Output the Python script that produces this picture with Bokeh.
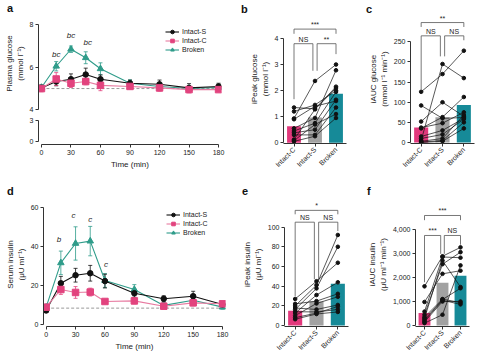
import math
from bokeh.plotting import figure
from bokeh.layouts import row, column
from bokeh.models import (Range1d, FixedTicker, Whisker, TeeHead, ColumnDataSource,
                          Legend, LegendItem, NumeralTickFormatter, Div)
from bokeh.core.properties import value
from bokeh.embed import file_html
from bokeh.resources import INLINE

FONT = "Liberation Sans"

# ---------------- data ----------------
times = [0, 15, 30, 45, 60, 90, 120, 150, 180]
time_ticks = [0, 30, 60, 90, 120, 150, 180]

glu_intact_s = [5.03, 5.33, 5.44, 5.66, 5.44, 5.25, 5.20, 5.03, 5.10]
glu_intact_s_err = [0.15, 0.20, 0.25, 0.30, 0.20, 0.15, 0.20, 0.20, 0.15]
glu_intact_c = [5.00, 5.45, 5.25, 5.33, 5.15, 5.10, 5.03, 4.95, 4.95]
glu_intact_c_err = [0.15, 0.30, 0.20, 0.15, 0.25, 0.10, 0.15, 0.15, 0.10]
glu_broken = [5.05, 6.05, 6.85, 6.45, 5.93, 5.25, 5.10, 5.00, 5.05]
glu_broken_err = [0.10, 0.22, 0.15, 0.28, 0.28, 0.15, 0.10, 0.10, 0.10]
glu_baseline = 5.0
glu_sig_t = [15, 30, 47]
glu_sig_y = [6.62, 7.50, 7.15]
glu_sig_txt = ["bc", "bc", "bc"]

ins_intact_s = [7.3, 21.2, 25.3, 26.3, 22.3, 16.1, 13.3, 14.6, 10.4]
ins_intact_s_err = [1.0, 3.5, 3.5, 4.0, 3.5, 2.0, 1.5, 2.5, 1.0]
ins_intact_c = [9.0, 18.0, 16.5, 16.7, 11.9, 12.2, 9.5, 11.2, 10.7]
ins_intact_c_err = [1.0, 2.5, 3.0, 2.0, 1.0, 1.5, 1.5, 1.5, 1.0]
ins_broken = [9.0, 31.6, 41.5, 42.7, 22.6, 18.0, 9.9, 12.5, 9.0]
ins_broken_err = [1.0, 6.0, 8.5, 7.5, 3.5, 2.5, 1.5, 1.5, 1.0]
ins_baseline = 8.5
ins_sig_t = [13, 28, 45, 61]
ins_sig_y = [43.3, 56.0, 53.5, 31.0]
ins_sig_txt = ["b", "c", "c", "c"]

groups = ["Intact-C", "Intact-S", "Broken"]
letters_top = ["a", "b", "c"]
letters_bottom = ["d", "e", "f"]

# b: iPeak glucose
b_means = [0.63, 0.97, 1.88]
b_ic = [1.35, 1.20, 0.93, 0.90, 0.55, 0.45, 0.38, 0.30, 0.12, 0.08, 0.05]
b_is = [1.30, 1.45, 2.37, 1.40, 0.95, 0.75, 0.50, 0.30, 1.28, 0.70, 0.25]
b_br = [2.15, 2.00, 3.00, 1.60, 2.78, 1.95, 1.65, 1.35, 2.10, 1.10, 0.95]
b_brk_from = [0, 0, 1]
b_brk_to = [2, 1, 2]
b_brk_level = [4.36, 3.80, 3.80]
b_brk_left_end = [4.18, 1.67, 2.76]
b_brk_right_end = [4.18, 2.76, 3.40]
b_brk_text = ["***", "NS", "**"]

# c: iAUC glucose
c_means = [37, 63, 93]
c_ic = [126, 92, 52, 37, 35, 15, 10, 5, 3, 1, 0]
c_is = [170, 60, 100, 48, 63, 30, 20, 195, 10, 5, 3]
c_br = [228, 62, 65, 75, 113, 60, 58, 160, 68, 50, 35]
c_brk_from = [0, 0, 1]
c_brk_to = [2, 1, 2]
c_brk_level = [298, 265, 265]
c_brk_left_end = [287, 132, 214]
c_brk_right_end = [287, 214, 254]
c_brk_text = ["**", "NS", "NS"]

# e: iPeak insulin
e_means = [15.0, 24.5, 42.5]
e_ic = [27.0, 22.0, 20.0, 17.8, 16.3, 14.0, 12.6, 10.0, 8.0, 6.4]
e_is = [45.0, 24.8, 41.0, 16.3, 37.7, 13.8, 31.0, 22.4, 12.6, 11.7]
e_br = [63.8, 32.2, 92.0, 20.9, 80.0, 16.3, 43.9, 29.2, 19.3, 13.8]
e_brk_from = [0, 0, 1]
e_brk_to = [2, 1, 2]
e_brk_level = [117, 105, 105]
e_brk_left_end = [113, 30, 47]
e_brk_right_end = [113, 47, 96]
e_brk_text = ["*", "NS", "NS"]

# f: iAUC insulin
f_means = [520, 1780, 2070]
f_ic = [1630, 980, 580, 450, 350, 300, 250, 200, 150, 100]
f_is = [2880, 2150, 2850, 2550, 1100, 2700, 1080, 1050, 1000, 450]
f_br = [3250, 2280, 2820, 3050, 950, 1600, 1550, 880, 1000, 2500]
f_brk_from = [0, 0, 1]
f_brk_to = [2, 1, 2]
f_brk_level = [4575, 3744, 3744]
f_brk_left_end = [4380, 1800, 2980]
f_brk_right_end = [4380, 2980, 3360]
f_brk_text = ["***", "***", "NS"]

# ---------------- styles ----------------
COL_IC = "#E2437E"
COL_IC_LINE = "#E77BA1"
COL_IS = "#111111"
COL_BR = "#2F9C8A"
BAR_COLORS = ["#E2387C", "#A2A2A2", "#168A98"]
AX = "#333333"


def mkfig(w, h, xr, yr, bl, br, bt, bb):
    p = figure(width=w, height=h, x_range=xr, y_range=yr, output_backend="svg",
               toolbar_location=None, min_border_left=bl, min_border_right=br,
               min_border_top=bt, min_border_bottom=bb)
    p.xgrid.visible = False
    p.ygrid.visible = False
    p.outline_line_color = None
    p.background_fill_color = "white"
    p.border_fill_color = "white"
    for ax in p.axis:
        ax.axis_line_color = AX
        ax.axis_line_width = 1
        ax.major_tick_line_color = AX
        ax.major_tick_out = 3
        ax.major_tick_in = 0
        ax.minor_tick_line_color = None
        ax.major_label_text_font = FONT
        ax.major_label_text_font_size = "7px"
        ax.major_label_text_color = "#222222"
        ax.major_label_standoff = 2
        ax.axis_label_text_font = FONT
        ax.axis_label_text_font_size = "8px"
        ax.axis_label_text_font_style = "normal"
        ax.axis_label_text_color = "#222222"
        ax.axis_label_standoff = 2
    return p


def letter_strip(h, letters, lefts, tops):
    spans = "".join(
        f'<span style="position:absolute;left:{x}px;top:{t}px;">{l}</span>'
        for l, x, t in zip(letters, lefts, tops))
    html = (f'<div style="position:relative;width:500px;height:{h}px;overflow:visible;'
            f'font-family:\'{FONT}\';font-size:11px;font-weight:bold;line-height:11px;'
            f'color:#111111;">{spans}</div>')
    return Div(text=html, width=500, height=h, margin=(0, 0, 0, 0))


def time_series(p, ys, es, yc, ec, yb, eb, baseline, sig_t, sig_y, sig_txt):
    p.line(x=[times[0], times[-1]], y=[baseline, baseline], line_color="#9A9A9A",
           line_width=1, line_dash="3 2")
    specs = [("Broken", yb, eb, COL_BR, COL_BR, "triangle", 6.5),
             ("Intact-S", ys, es, COL_IS, COL_IS, "circle", 5.5),
             ("Intact-C", yc, ec, COL_IC_LINE, COL_IC, "square", 6.5)]
    rends = {}
    for name, y, e, lc, mc, mk, sz in specs:
        src = ColumnDataSource(dict(t=times, y=y,
                                    lo=[v - d for v, d in zip(y, e)],
                                    hi=[v + d for v, d in zip(y, e)]))
        p.add_layout(Whisker(source=src, base="t", upper="hi", lower="lo",
                             line_color=mc, line_width=0.8,
                             upper_head=TeeHead(size=4, line_color=mc, line_width=0.8),
                             lower_head=TeeHead(size=4, line_color=mc, line_width=0.8)))
        ln = p.line(x="t", y="y", source=src, line_color=lc, line_width=1.1)
        sc = p.scatter(x="t", y="y", source=src, marker=mk, size=sz,
                       fill_color=mc, line_color=mc)
        rends[name] = [ln, sc]
    p.text(x=sig_t, y=sig_y, text=sig_txt, text_font=value(FONT), text_font_size="8px",
           text_font_style="italic", text_color="#222222", text_align="center",
           text_baseline="middle")
    return rends


def add_legend(p, rends, loc, row_h):
    items = [LegendItem(label=n, renderers=rends[n]) for n in ["Intact-S", "Intact-C", "Broken"]]
    lg = Legend(items=items, location=loc, padding=0, margin=0, spacing=0,
                label_text_font=FONT, label_text_font_size="7px", label_text_color="#222222",
                label_height=row_h, glyph_height=row_h, glyph_width=14, label_standoff=3,
                background_fill_alpha=0, border_line_color=None)
    p.add_layout(lg)


def bar_panel(p, means, ic, is_, br, bfrom, bto, blevel, bleft, bright, btxt, ylabel):
    pos = [i + 0.5 for i in range(len(groups))]
    p.vbar(x=pos, top=means, width=0.66, fill_color=BAR_COLORS, line_color=None, bottom=0)
    p.multi_line(xs=[pos for _ in ic], ys=[[a, b, c] for a, b, c in zip(ic, is_, br)],
                 line_color="#111111", line_width=0.7)
    px, py = [], []
    for k, vals in enumerate([ic, is_, br]):
        px += [pos[k]] * len(vals)
        py += vals
    p.scatter(x=px, y=py, size=3.6, fill_color="#111111", line_color="#111111")
    xs, ys, tx = [], [], []
    for i, j, lv, le, re in zip(bfrom, bto, blevel, bleft, bright):
        x0, x1 = pos[i], pos[j]
        if j - i == 1:
            if j == 1:
                x1 -= 0.1
            if i == 1:
                x0 += 0.1
        xs.append([x0, x0, x1, x1])
        ys.append([le, lv, lv, re])
        tx.append((x0 + x1) / 2)
    p.multi_line(xs=xs, ys=ys, line_color="#555555", line_width=0.8)
    p.text(x=tx, y=blevel, text=btxt, text_font=value(FONT), text_font_size="7px",
           text_color="#222222", text_align="center", text_baseline="bottom", y_offset=-1)
    p.xaxis.ticker = FixedTicker(ticks=pos)
    p.xaxis.major_label_overrides = {pp: g for pp, g in zip(pos, groups)}
    p.xaxis.major_label_orientation = math.pi / 4
    p.xaxis.major_label_text_font_size = "7px"
    p.yaxis.axis_label = ylabel


# ---------------- letter strips ----------------
strip_top = letter_strip(14, letters_top, [7, 241, 366], [3, 4, 4])
strip_bottom = letter_strip(16, letters_bottom, [7, 242, 367], [6, 6, 6])

# ---------------- panel a (broken axis) ----------------
xr_a = Range1d(-3, 183)
pa1 = mkfig(240, 100, xr_a, Range1d(3.873, 8.485), 38, 19, 0, 2)
pa1.xaxis.visible = False
pa1.yaxis.ticker = FixedTicker(ticks=[4, 6, 8])
pa1.yaxis.bounds = (4, 8)
pa1.yaxis.axis_label = "Plasma glucose\n(mmol l\u207b\u00b9)"
ra = time_series(pa1, glu_intact_s, glu_intact_s_err, glu_intact_c, glu_intact_c_err,
                 glu_broken, glu_broken_err, glu_baseline, glu_sig_t, glu_sig_y, glu_sig_txt)
add_legend(pa1, ra, (127, 58), 9)

pa2 = mkfig(240, 66, xr_a, Range1d(-0.38, 3.42), 38, 19, 3, 36)
pa2.yaxis.ticker = FixedTicker(ticks=[0, 3])
pa2.yaxis.bounds = (0, 3)
pa2.xaxis.ticker = FixedTicker(ticks=time_ticks)
pa2.xaxis.bounds = (0, 180)
pa2.xaxis.axis_label = "Time (min)"
pa2.line(x=[times[0]], y=[glu_baseline], line_alpha=0)
pa_col = column(pa1, pa2, spacing=0)

# ---------------- panel b ----------------
pb = mkfig(125, 166, Range1d(0, 3), Range1d(-0.03, 4.92), 43, 19, 0, 37)
pb.yaxis.ticker = FixedTicker(ticks=[0, 1, 2, 3, 4])
pb.yaxis.bounds = (0, 4)
bar_panel(pb, b_means, b_ic, b_is, b_br, b_brk_from, b_brk_to, b_brk_level,
          b_brk_left_end, b_brk_right_end, b_brk_text, "iPeak glucose\n(mmol l\u207b\u00b9)")

# ---------------- panel c ----------------
pc = mkfig(135, 166, Range1d(0, 3), Range1d(-2.5, 318), 45, 26, 0, 37)
pc.yaxis.ticker = FixedTicker(ticks=[0, 50, 100, 150, 200, 250])
pc.yaxis.bounds = (0, 250)
bar_panel(pc, c_means, c_ic, c_is, c_br, c_brk_from, c_brk_to, c_brk_level,
          c_brk_left_end, c_brk_right_end, c_brk_text,
          "iAUC glucose\n(mmol l\u207b\u00b9 min\u207b\u00b9)")

# ---------------- panel d ----------------
pd_ = mkfig(240, 168, Range1d(-2.7, 183), Range1d(-0.87, 62.4), 43, 15, 6, 38)
pd_.yaxis.ticker = FixedTicker(ticks=[0, 20, 40, 60])
pd_.yaxis.bounds = (0, 60)
pd_.xaxis.ticker = FixedTicker(ticks=time_ticks)
pd_.xaxis.bounds = (0, 180)
pd_.xaxis.axis_label = "Time (min)"
pd_.yaxis.axis_label = "Serum insulin\n(\u03bcU ml\u207b\u00b9)"
rd = time_series(pd_, ins_intact_s, ins_intact_s_err, ins_intact_c, ins_intact_c_err,
                 ins_broken, ins_broken_err, ins_baseline, ins_sig_t, ins_sig_y, ins_sig_txt)
add_legend(pd_, rd, (123, 89), 9)

# ---------------- panel e ----------------
pe = mkfig(125, 168, Range1d(0, 3), Range1d(-1, 125), 41, 17, 0, 37)
pe.yaxis.ticker = FixedTicker(ticks=[0, 20, 40, 60, 80, 100])
pe.yaxis.bounds = (0, 100)
bar_panel(pe, e_means, e_ic, e_is, e_br, e_brk_from, e_brk_to, e_brk_level,
          e_brk_left_end, e_brk_right_end, e_brk_text, "iPeak insulin\n(\u03bcU ml\u207b\u00b9)")

# ---------------- panel f ----------------
pf = mkfig(135, 168, Range1d(0, 3), Range1d(-40, 5115), 42, 31, 3, 37)
pf.yaxis.ticker = FixedTicker(ticks=[0, 1000, 2000, 3000, 4000])
pf.yaxis.bounds = (0, 4000)
pf.yaxis.formatter = NumeralTickFormatter(format="0,0")
bar_panel(pf, f_means, f_ic, f_is, f_br, f_brk_from, f_brk_to, f_brk_level,
          f_brk_left_end, f_brk_right_end, f_brk_text,
          "iAUC insulin\n(\u03bcU ml\u207b\u00b9 min\u207b\u00b9)")

layout = column(strip_top, row(pa_col, pb, pc, spacing=0), strip_bottom,
                row(pd_, pe, pf, spacing=0), spacing=0)

with open("out.html", "w") as fh:
    fh.write(file_html(layout, INLINE))
